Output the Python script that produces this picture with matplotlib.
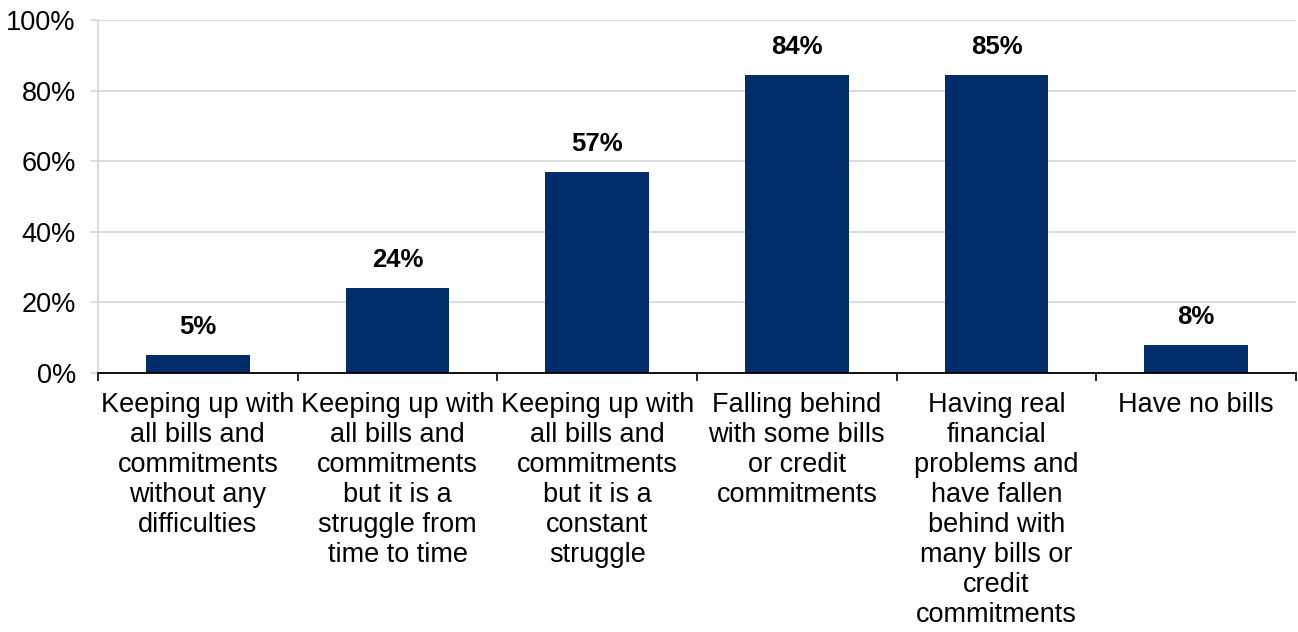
import matplotlib.pyplot as plt
from matplotlib.ticker import FixedLocator, PercentFormatter

plt.rcParams['font.family'] = ['Liberation Sans', 'DejaVu Sans']

categories = [
    'Keeping up with\nall bills and\ncommitments\nwithout any\ndifficulties',
    'Keeping up with\nall bills and\ncommitments\nbut it is a\nstruggle from\ntime to time',
    'Keeping up with\nall bills and\ncommitments\nbut it is a\nconstant\nstruggle',
    'Falling behind\nwith some bills\nor credit\ncommitments',
    'Having real\nfinancial\nproblems and\nhave fallen\nbehind with\nmany bills or\ncredit\ncommitments',
    'Have no bills',
]
values = [5, 24, 57, 84, 85, 8]
bar_heights = [5, 24, 57, 84.5, 84.5, 8]

fig = plt.figure(figsize=(12.98, 6.32), dpi=100)
ax = fig.add_axes([98 / 1298, 1 - 373 / 632, (1296 - 98) / 1298, (373 - 20) / 632])

x = list(range(len(categories)))
bars = ax.bar(x, bar_heights, width=0.52, color='#002C69', zorder=3)
for xi, v, h in zip(x, values, bar_heights):
    ax.text(xi, h + 4.5, f'{v}%', ha='center', va='bottom', fontsize=18.5,
            fontweight='bold', color='black')

ax.set_xlim(-0.5, len(categories) - 0.5)
ax.set_ylim(0, 100)
ax.set_yticks(range(0, 101, 20))
ax.yaxis.set_major_formatter(PercentFormatter(decimals=0))
ax.yaxis.grid(True, color='#d9d9d9', linewidth=1.3, zorder=0)

ax.set_xticks(x)
ax.set_xticklabels(categories, fontsize=19.5, linespacing=1.2, va='top')
ax.tick_params(axis='x', length=0, pad=14)
ax.xaxis.set_minor_locator(FixedLocator([i - 0.5 for i in range(len(categories) + 1)]))
ax.tick_params(axis='x', which='minor', length=6, width=1.2, color='black', direction='out')
ax.tick_params(axis='y', length=6, width=1.2, color='#d9d9d9', labelsize=19.5, pad=10)

for s in ['top', 'right']:
    ax.spines[s].set_visible(False)
ax.spines['left'].set_color('#d9d9d9')
ax.spines['left'].set_linewidth(1.3)
ax.spines['bottom'].set_color('black')
ax.spines['bottom'].set_linewidth(1.3)
ax.spines['bottom'].set_zorder(4)

plt.savefig('out.png', dpi=100)
